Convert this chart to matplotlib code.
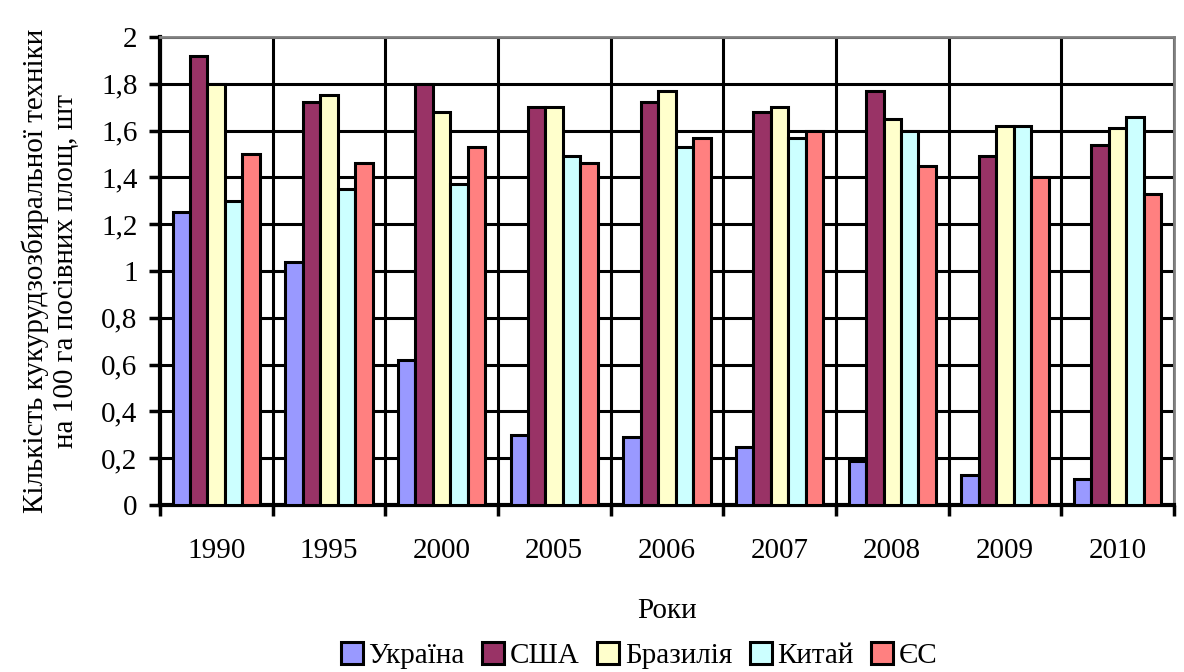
import matplotlib
matplotlib.use("Agg")
import numpy as np
import matplotlib.pyplot as plt
from matplotlib.ticker import FixedLocator, FuncFormatter

years = ['1990', '1995', '2000', '2005', '2006', '2007', '2008', '2009', '2010']
ukraine = [1.25, 1.04, 0.62, 0.30, 0.29, 0.25, 0.19, 0.13, 0.11]
usa = [1.92, 1.72, 1.80, 1.70, 1.72, 1.68, 1.77, 1.49, 1.54]
brazil = [1.80, 1.75, 1.68, 1.70, 1.77, 1.70, 1.65, 1.62, 1.61]
china = [1.30, 1.35, 1.37, 1.49, 1.53, 1.57, 1.60, 1.62, 1.66]
eu = [1.50, 1.46, 1.53, 1.46, 1.57, 1.60, 1.45, 1.40, 1.33]

series = [('Україна', ukraine, '#9999FF'),
          ('США', usa, '#993366'),
          ('Бразилія', brazil, '#FFFFCC'),
          ('Китай', china, '#CCFFFF'),
          ('ЄС', eu, '#FF8080')]

plt.rcParams['font.family'] = ['Liberation Serif', 'DejaVu Serif']
plt.rcParams['font.size'] = 21

fig = plt.figure(figsize=(11.84, 6.72), dpi=100)
ax = fig.add_axes([0.135, 0.2485, 0.8565, 0.6965])

index = np.arange(len(years))
bar_width = 0.155
for i, (name, vals, col) in enumerate(series):
    ax.bar(index + (i - 2) * bar_width, vals, bar_width,
           color=col, edgecolor='black', linewidth=2.2, label=name, zorder=3)

ax.set_xlim(-0.5, len(years) - 0.5)
ax.set_ylim(0, 2)
ax.set_yticks(np.arange(0, 2.01, 0.2))
ax.yaxis.set_major_formatter(FuncFormatter(
    lambda v, p: ('%.1f' % v).rstrip('0').rstrip('.').replace('.', ',') if v else '0'))

ax.set_xticks(index)
ax.set_xticklabels(years)
ax.xaxis.set_minor_locator(FixedLocator(np.arange(-0.5, len(years), 1)))
ax.tick_params(axis='x', which='major', length=0, pad=24)
ax.tick_params(axis='x', which='minor', length=8, width=2.5, direction='out')
ax.tick_params(axis='y', length=8, width=2.5, direction='out', pad=8)

ax.grid(axis='y', color='black', linewidth=2.2, zorder=0)
ax.grid(axis='x', which='minor', color='black', linewidth=2.2, zorder=0)
ax.set_axisbelow(True)

ax.spines['left'].set_linewidth(3)
ax.spines['bottom'].set_linewidth(3)
ax.spines['top'].set_color('#808080')
ax.spines['top'].set_linewidth(2)
ax.spines['right'].set_color('#808080')
ax.spines['right'].set_linewidth(2)

ax.set_xlabel('Роки', labelpad=24)
ax.set_ylabel('Кількість кукурудзозбиральної техніки\nна 100 га посівних площ, шт', labelpad=16)

fig.legend(loc='lower center', bbox_to_anchor=(0.54, -0.035), ncol=5, frameon=False,
           handlelength=0.75, handleheight=0.75, handletextpad=0.2, columnspacing=0.6,
           fontsize=21)

fig.savefig('out.png', dpi=100)
